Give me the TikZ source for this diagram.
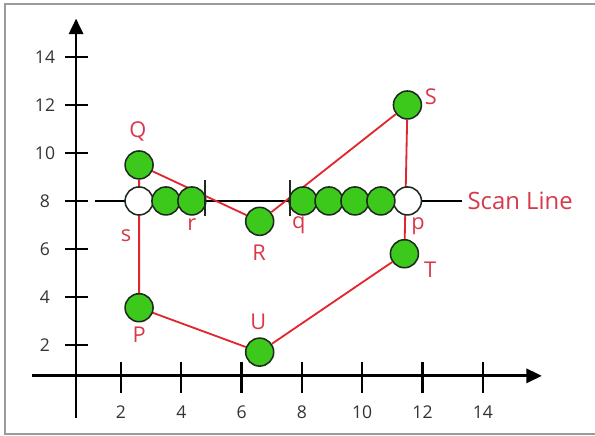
\documentclass[tikz,border=0pt]{standalone}
\usepackage{fontspec}
\setmainfont{Open Sans}
\usetikzlibrary{positioning, arrows.meta, backgrounds}
\definecolor{pRed}{HTML}{E2262F}
\definecolor{pLabel}{HTML}{D8394A}
\definecolor{pGreen}{HTML}{3DC81C}
\definecolor{pDark}{HTML}{1E2A1E}
\definecolor{pFrame}{HTML}{9A9A9A}

\begin{document}
\begin{tikzpicture}[x=0.754cm, y=0.6cm,
  dot/.style={circle, draw=pDark, line width=1.1pt, fill=pGreen,
              minimum size=0.7cm, inner sep=0pt},
  hole/.style={dot, fill=white},
  edge/.style={draw=pRed, line width=1.3pt},
  lab/.style={text=pLabel, font=\fontsize{15.5}{18}\selectfont, inner sep=1pt},
  num/.style={text=black!80, font=\fontsize{12.5}{15}\selectfont, inner sep=1pt},
  axis/.style={line width=2pt, -{Triangle[length=11pt, width=10pt]}},
]
  \useasboundingbox (-2.013,-1.792) rectangle (17.721,16.375);
  % frame, open on the right
  \draw[pFrame, line width=1.5pt] (18,16.21) -- (-1.847,16.21) -- (-1.847,-1.708) -- (18,-1.708);

  % axes with ticks
  \draw[axis] (-0.95,0.71) -- (15.96,0.71);
  \draw[axis] (0.51,-1.04) -- (0.51,15.6);
  \foreach \v in {2,4,...,14} {
    \draw[line width=1.6pt] (\v,0) -- (\v,1.29);
    \node[num] (xl\v) at (\v,-0.79) {\v};
    \draw[line width=1.6pt] (0.14,\v) -- (0.91,\v);
    \node[num] (yl\v) at (-0.52,\v) {\v};
  }

  % polygon vertices
  \node[dot] (Q) at (2.6,9.5) {};
  \node[dot] (R) at (6.6,7.15) {};
  \node[dot] (S) at (11.5,12.0) {};
  \node[dot] (T) at (11.4,5.8) {};
  \node[dot] (U) at (6.6,1.7) {};
  \node[dot] (P) at (2.6,3.55) {};

  % scan line and its span points
  \coordinate (scanL) at (1.14,8);
  \node[lab, anchor=west, inner sep=4pt, font=\fontsize{17}{20}\selectfont] (scan) at (13.3,8) {Scan Line};
  \node[hole] (s) at (2.6,8) {};
  \node[hole] (p) at (11.5,8) {};
  \foreach \x [count=\i] in {3.49,4.35,8.04,8.9,9.76,10.62} {
    \node[dot] (h\i) at (\x,8) {};
  }
  \draw[pDark, line width=1.4pt] (4.8,7.375) -- (4.8,8.875);
  \draw[pDark, line width=1.4pt] (7.6,7.375) -- (7.6,8.875);

  \begin{scope}[on background layer]
    \draw[line width=1.4pt] (scanL) -- (scan.west);
    \draw[edge] (Q) -- (R) -- (S) -- (T) -- (U) -- (P) -- (Q);
  \end{scope}

  % labels
  \node[lab] (lQ) at (2.56,10.9) {Q};
  \node[lab] (lR) at (6.58,5.83) {R};
  \node[lab] (lS) at (12.28,12.33) {S};
  \node[lab] (lT) at (12.25,5.12) {T};
  \node[lab] (lU) at (6.55,2.96) {U};
  \node[lab] (lP) at (2.6,2.42) {P};
  \node[lab] (ls) at (2.17,6.54) {s};
  \node[lab] (lr) at (4.35,7.0) {r};
  \node[lab] (lq) at (7.9,7.0) {q};
  \node[lab] (lp) at (11.85,6.96) {p};
\end{tikzpicture}
\end{document}
